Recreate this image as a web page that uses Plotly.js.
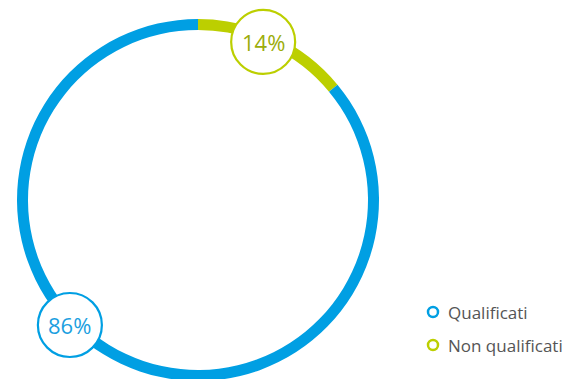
<!DOCTYPE html>
<html>
<head>
<meta charset="utf-8">
<script src="https://cdn.plot.ly/plotly-3.0.1.min.js"></script>
<style>
html,body{margin:0;padding:0;overflow:hidden;background:#fff;}
#chart{width:585px;height:400px;}
</style>
</head>
<body>
<div id="chart"></div>
<script>
// Data
const labels = ['Qualificati', 'Non qualificati'];
const values = [86, 14];
const colors = ['#009FE3', '#BCCF00'];
const textColors = ['#1C9FDF', '#9BAD0A'];

// Layout constants (pixels)
const W = 585, H = 400;
const cx = 198, cy = 200, R = 181;
const labelRadii = [179, 171];
const labelAngles = [225.7, 22.4];  // degrees clockwise from 12 o'clock
const labelR = 32;

const px = x => x / W;
const py = y => 1 - y / H;

const total = values.reduce((a, b) => a + b, 0);

// green slice first, clockwise from 12 o'clock
const order = [1, 0];
const pie = {
  type: 'pie',
  values: order.map(i => values[i]),
  labels: order.map(i => labels[i]),
  marker: {colors: order.map(i => colors[i]), line: {width: 0}},
  hole: 1 - 11 / R,
  sort: false,
  direction: 'clockwise',
  rotation: 0,
  textinfo: 'none',
  hoverinfo: 'label+percent',
  showlegend: false,
  domain: {x: [px(cx - R), px(cx + R)], y: [py(cy + R), py(cy - R)]}
};

const shapes = [];
const annotations = [];

values.forEach((v, i) => {
  const a = labelAngles[i] * Math.PI / 180;
  const x = cx + labelRadii[i] * Math.sin(a);
  const y = cy - labelRadii[i] * Math.cos(a);
  shapes.push({
    type: 'circle', xref: 'paper', yref: 'paper',
    xsizemode: 'pixel', ysizemode: 'pixel',
    xanchor: px(x), yanchor: py(y),
    x0: -labelR, x1: labelR, y0: -labelR, y1: labelR,
    fillcolor: '#ffffff', line: {color: colors[i], width: 2.2}
  });
  annotations.push({
    xref: 'paper', yref: 'paper', x: px(x), y: py(y),
    xanchor: 'center', yanchor: 'middle', showarrow: false,
    text: Math.round(v / total * 100) + '%',
    font: {family: 'Open Sans, sans-serif', size: 22, color: textColors[i]}
  });
});

// Legend (hollow circle markers)
const legX = 433, legY0 = 312, legDy = 33;
labels.forEach((lab, i) => {
  const y = legY0 + i * legDy;
  shapes.push({
    type: 'circle', xref: 'paper', yref: 'paper',
    xsizemode: 'pixel', ysizemode: 'pixel',
    xanchor: px(legX), yanchor: py(y),
    x0: -5, x1: 5, y0: -5, y1: 5,
    fillcolor: 'rgba(0,0,0,0)', line: {color: colors[i], width: 2.5}
  });
  annotations.push({
    xref: 'paper', yref: 'paper', x: px(legX + 13), y: py(y),
    xanchor: 'left', yanchor: 'middle', showarrow: false,
    text: lab,
    font: {family: 'Open Sans, sans-serif', size: 17, color: '#555555'}
  });
});

const layout = {
  width: W, height: H,
  margin: {l: 0, r: 0, t: 0, b: 0},
  paper_bgcolor: '#ffffff',
  showlegend: false,
  shapes: shapes,
  annotations: annotations
};

Plotly.newPlot('chart', [pie], layout, {displayModeBar: false, staticPlot: true});
</script>
</body>
</html>
